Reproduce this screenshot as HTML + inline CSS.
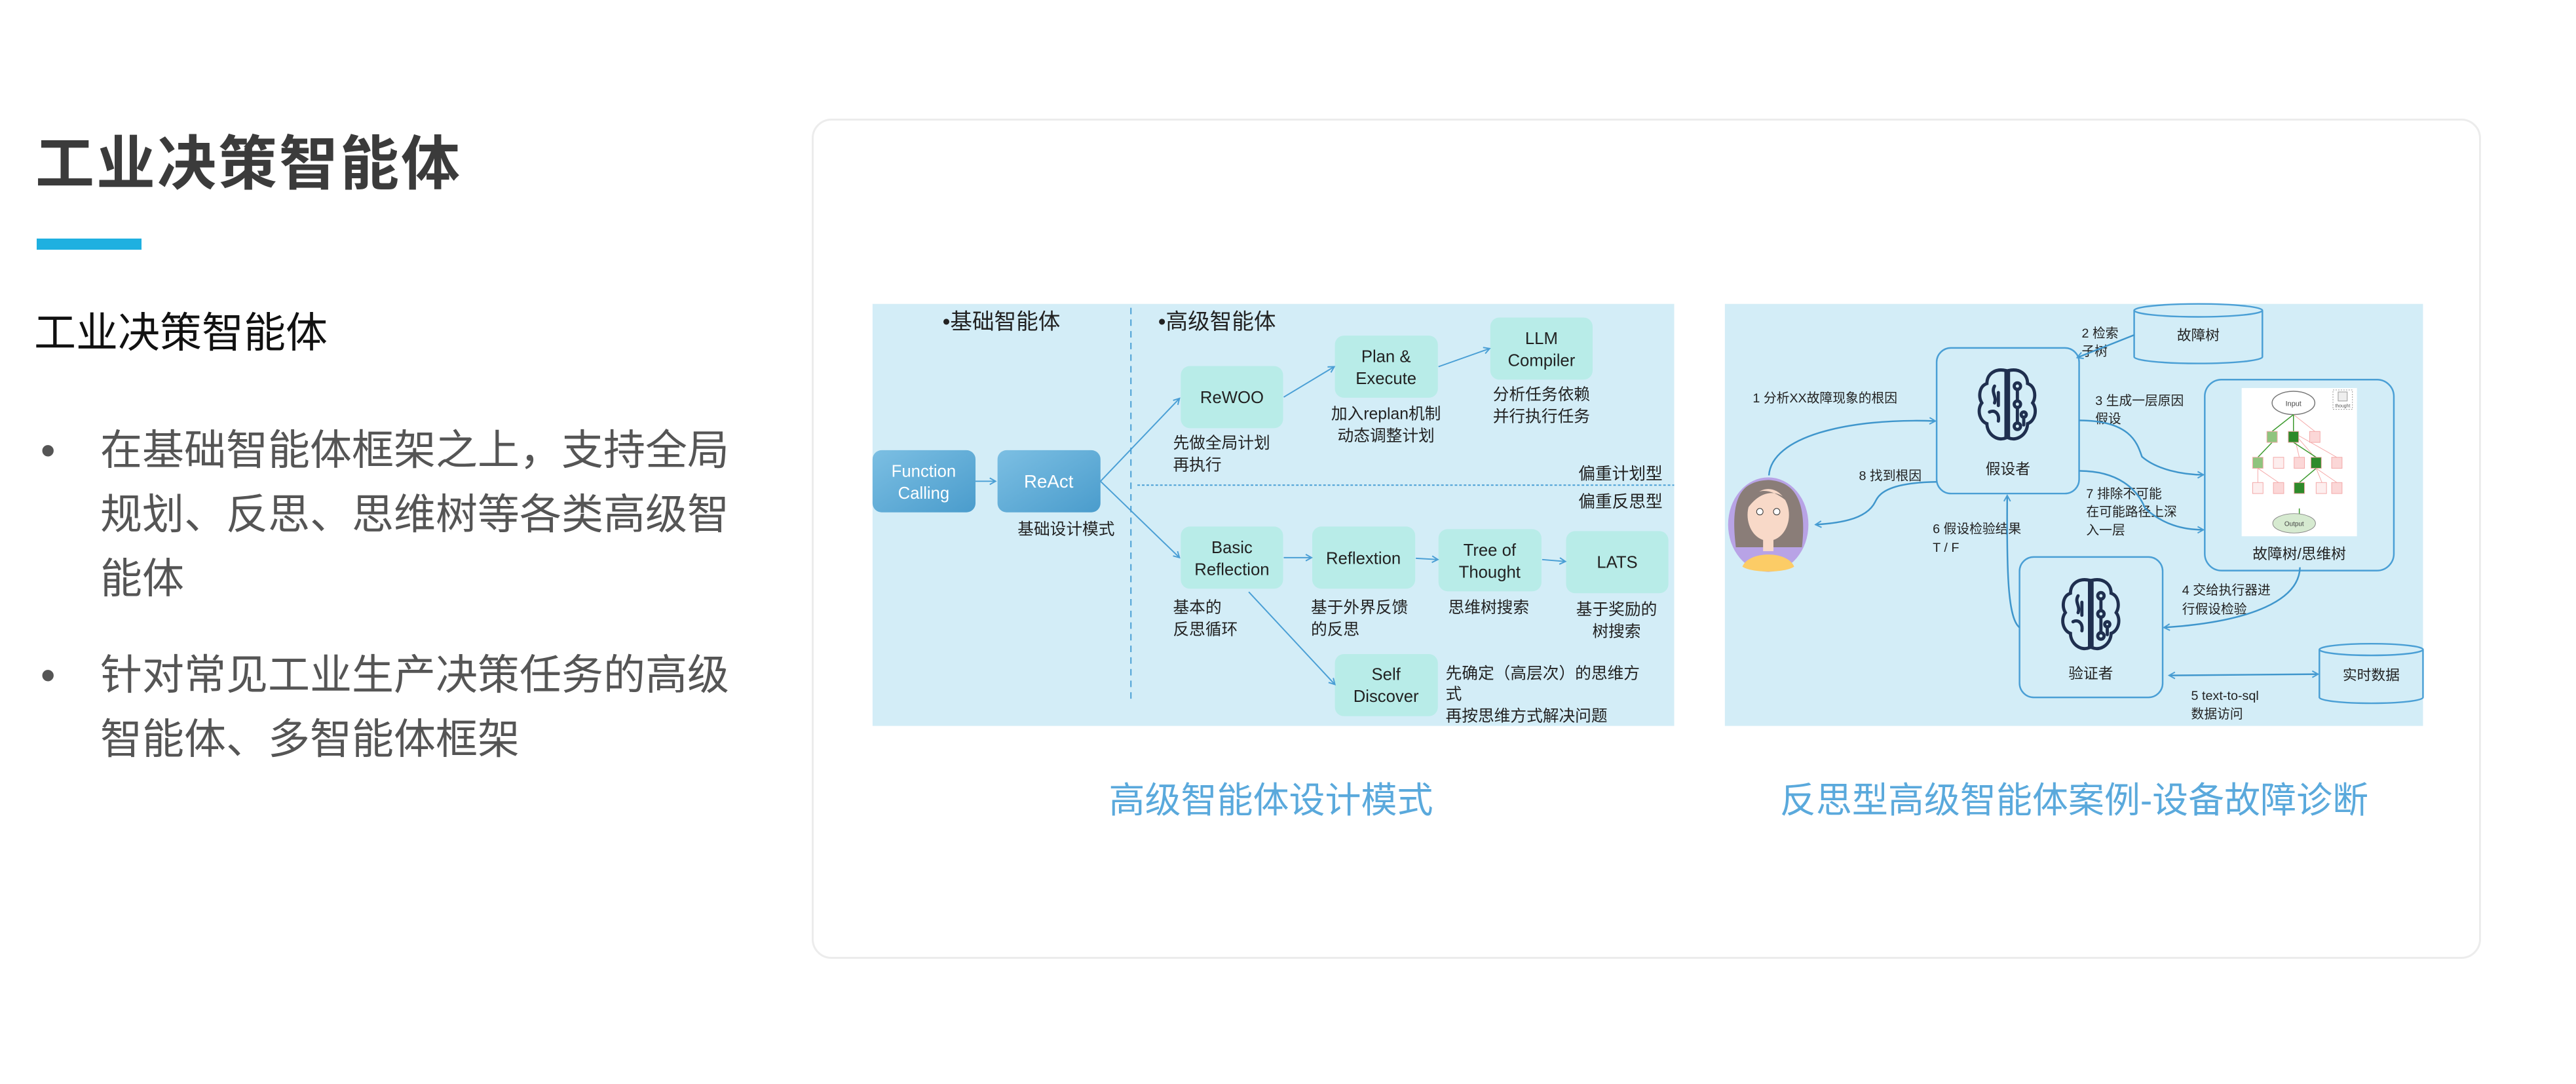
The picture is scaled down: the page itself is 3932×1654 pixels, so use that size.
<!DOCTYPE html>
<html><head><meta charset="utf-8"><style>
html,body{margin:0;padding:0;background:#fff;}
body{width:3932px;height:1654px;position:relative;overflow:hidden;font-family:"Liberation Sans","Noto Sans CJK SC",sans-serif;}
.t{position:absolute;white-space:nowrap;}
</style></head><body>
<div class="t" style="left:54px;top:196px;font-size:90px;font-weight:bold;color:#3b3b3b;letter-spacing:3px;line-height:110px;">工业决策智能体</div>
<div style="position:absolute;left:56px;top:364px;width:160px;height:17px;background:#1fb0e0;"></div>
<div class="t" style="left:52px;top:463px;font-size:64px;color:#111;line-height:90px;">工业决策智能体</div>
<div style="position:absolute;left:62px;top:638px;font-size:64px;color:#555;line-height:98px;">
 <div style="position:absolute;left:0;top:0;">•</div>
 <div style="position:absolute;left:91px;top:0;width:1000px;white-space:normal;">在基础智能体框架之上，支持全局规划、反思、思维树等各类高级智能体</div>
 <div style="position:absolute;left:0;top:343px;">•</div>
 <div style="position:absolute;left:91px;top:343px;width:1000px;white-space:normal;">针对常见工业生产决策任务的高级智能体、多智能体框架</div>
</div>
<div style="position:absolute;left:1239px;top:181px;width:2542px;height:1276px;border:3px solid #ececec;border-radius:30px;"></div>

<svg style="position:absolute;left:0;top:0" width="3932" height="1654" font-family="Liberation Sans, Noto Sans CJK SC, sans-serif">
<defs>
<marker id="a" markerWidth="12" markerHeight="12" refX="10" refY="6" orient="auto" markerUnits="userSpaceOnUse"><path d="M1,1 L10,6 L1,11" fill="none" stroke="#4a9fd5" stroke-width="2"/></marker>
<marker id="as" markerWidth="12" markerHeight="12" refX="2" refY="6" orient="auto" markerUnits="userSpaceOnUse"><path d="M11,1 L2,6 L11,11" fill="none" stroke="#4a9fd5" stroke-width="2"/></marker>
<linearGradient id="bg" x1="0" y1="0" x2="1" y2="1"><stop offset="0" stop-color="#7cbfe3"/><stop offset="1" stop-color="#4a9ccc"/></linearGradient>
<g id="brain" fill="none" stroke="#1f2f4f" stroke-width="5" stroke-linecap="round">
<path d="M48,6 C30,2 18,12 18,26 C6,30 4,46 10,56 C2,66 6,84 18,88 C18,104 34,116 48,110 Z"/>
<path d="M52,6 C70,2 82,12 82,26 C94,30 96,46 90,56 C98,66 94,84 82,88 C82,104 66,116 52,110 Z"/>
<path d="M30,30 C24,40 34,46 30,56 M22,70 C30,66 38,72 36,84 M36,40 L36,60"/>
<circle cx="66" cy="30" r="5"/><circle cx="66" cy="58" r="5"/><circle cx="66" cy="92" r="5"/><circle cx="76" cy="74" r="4"/>
<path d="M66,35 L66,53 M66,63 L66,87 M76,78 L76,90"/>
</g>
</defs>

<g transform="translate(1320,440) scale(0.9884,0.9876) translate(-1320,-440)">
<rect x="1332" y="464" width="1238" height="652" fill="#d3edf7"/>
<line x1="1731" y1="470" x2="1731" y2="1080" stroke="#4a9fd5" stroke-width="2" stroke-dasharray="10,8"/>
<line x1="1741" y1="744" x2="2570" y2="744" stroke="#4a9fd5" stroke-width="2" stroke-dasharray="4,3"/>
<text x="1440" y="503" font-size="34" fill="#222">•基础智能体</text>
<text x="1773" y="503" font-size="34" fill="#222">•高级智能体</text>
<text x="2552" y="735" font-size="26" fill="#222" text-anchor="end">偏重计划型</text>
<text x="2552" y="778" font-size="26" fill="#222" text-anchor="end">偏重反思型</text>

<rect x="1332" y="690" width="159" height="96" rx="14" fill="url(#bg)"/>
<text x="1411" y="731" font-size="26" fill="#fff" text-anchor="middle">Function</text>
<text x="1411" y="765" font-size="26" fill="#fff" text-anchor="middle">Calling</text>
<rect x="1525" y="690" width="159" height="96" rx="14" fill="url(#bg)"/>
<text x="1604" y="748" font-size="28" fill="#fff" text-anchor="middle">ReAct</text>
<line x1="1491" y1="738" x2="1522" y2="738" stroke="#4a9fd5" stroke-width="2" marker-end="url(#a)"/>
<text x="1556" y="820" font-size="25" fill="#222">基础设计模式</text>

<g fill="#b8ece8">
<rect x="1808" y="560" width="158" height="96" rx="14"/>
<rect x="2046" y="513" width="159" height="96" rx="14"/>
<rect x="2286" y="485" width="158" height="96" rx="14"/>
<rect x="1808" y="808" width="158" height="96" rx="14"/>
<rect x="2011" y="808" width="159" height="96" rx="14"/>
<rect x="2206" y="812" width="159" height="96" rx="14"/>
<rect x="2403" y="815" width="158" height="96" rx="14"/>
<rect x="2046" y="1005" width="159" height="96" rx="14"/>
</g>
<g font-size="26" fill="#222" text-anchor="middle">
<text x="1887" y="617">ReWOO</text>
<text x="2125" y="554">Plan &amp;</text><text x="2125" y="588">Execute</text>
<text x="2365" y="526">LLM</text><text x="2365" y="560">Compiler</text>
<text x="1887" y="849">Basic</text><text x="1887" y="883">Reflection</text>
<text x="2090" y="866">Reflextion</text>
<text x="2285" y="853">Tree of</text><text x="2285" y="887">Thought</text>
<text x="2482" y="872">LATS</text>
<text x="2125" y="1045">Self</text><text x="2125" y="1079">Discover</text>
</g>
<g font-size="25" fill="#222">
<text x="1796" y="687">先做全局计划</text><text x="1796" y="721">再执行</text>
<text x="2125" y="642" text-anchor="middle">加入replan机制</text><text x="2125" y="676" text-anchor="middle">动态调整计划</text>
<text x="2365" y="612" text-anchor="middle">分析任务依赖</text><text x="2365" y="646" text-anchor="middle">并行执行任务</text>
<text x="1796" y="941">基本的</text><text x="1796" y="975">反思循环</text>
<text x="2009" y="941">基于外界反馈</text><text x="2009" y="975">的反思</text>
<text x="2221" y="941">思维树搜索</text>
<text x="2481" y="944" text-anchor="middle">基于奖励的</text><text x="2481" y="978" text-anchor="middle">树搜索</text>
<text x="2217" y="1043">先确定（高层次）的思维方</text><text x="2217" y="1075">式</text><text x="2217" y="1109">再按思维方式解决问题</text>
</g>
<g stroke="#4a9fd5" stroke-width="2" fill="none" marker-end="url(#a)">
<line x1="1684" y1="738" x2="1806" y2="610"/>
<line x1="1967" y1="608" x2="2045" y2="561"/>
<line x1="2206" y1="561" x2="2285" y2="533"/>
<line x1="1684" y1="738" x2="1806" y2="856"/>
<line x1="1967" y1="856" x2="2010" y2="856"/>
<line x1="2171" y1="857" x2="2205" y2="859"/>
<line x1="2366" y1="859" x2="2402" y2="862"/>
<line x1="1913" y1="909" x2="2046" y2="1052"/>
</g>
</g>
<text x="1940" y="1240" font-size="55" fill="#5aa9dc" text-anchor="middle">高级智能体设计模式</text>

<g transform="translate(2620,440) scale(0.9885,0.9876) translate(-2620,-440)">
<rect x="2633" y="464" width="1078" height="652" fill="#d3edf7"/>
<g stroke="#4a9fd5" stroke-width="2.5" fill="#d3edf7">
<path d="M3265,474 L3265,546 A99,10 0 0 0 3463,546 L3463,474"/>
<ellipse cx="3364" cy="474" rx="99" ry="10"/>
<path d="M3551,998 L3551,1072 A80,9 0 0 0 3711,1072 L3711,998"/>
<ellipse cx="3631" cy="998" rx="80" ry="9"/>
<rect x="2960" y="532" width="220" height="225" rx="22"/>
<rect x="3374" y="581" width="292" height="295" rx="26"/>
<rect x="3088" y="855" width="221" height="217" rx="22"/>
</g>
<text x="3364" y="520" font-size="22" fill="#222" text-anchor="middle">故障树</text>
<text x="3631" y="1045" font-size="22" fill="#222" text-anchor="middle">实时数据</text>
<use href="#brain" transform="translate(3020,561) scale(0.98,1.0)"/>
<use href="#brain" transform="translate(3149,885) scale(0.98,1.0)"/>
<text x="3070" y="727" font-size="23" fill="#222" text-anchor="middle">假设者</text>
<text x="3198" y="1043" font-size="23" fill="#222" text-anchor="middle">验证者</text>
<text x="3520" y="858" font-size="23" fill="#222" text-anchor="middle">故障树/思维树</text>

<rect x="3431" y="594" width="178" height="229" fill="#fff"/>
<ellipse cx="3511" cy="617" rx="33" ry="18" fill="#fff" stroke="#777" stroke-width="1.5"/>
<text x="3511" y="622" font-size="11" fill="#444" text-anchor="middle">Input</text>
<rect x="3572" y="597" width="30" height="30" fill="#fff" stroke="#999" stroke-dasharray="2,2"/>
<rect x="3580" y="600" width="14" height="14" fill="#eee" stroke="#999"/>
<text x="3587" y="624" font-size="7" fill="#555" text-anchor="middle">thought</text>
<g stroke="#f6aaaa" stroke-width="1">
<line x1="3511" y1="635" x2="3544" y2="661"/><line x1="3511" y1="663" x2="3544" y2="701"/><line x1="3511" y1="663" x2="3520" y2="701"/><line x1="3511" y1="663" x2="3578" y2="701"/>
<line x1="3546" y1="718" x2="3578" y2="740"/><line x1="3546" y1="718" x2="3555" y2="740"/><line x1="3456" y1="718" x2="3456" y2="740"/><line x1="3456" y1="718" x2="3488" y2="740"/>
</g>
<g stroke="#3c9a2e" stroke-width="1.5">
<line x1="3511" y1="635" x2="3478" y2="661"/><line x1="3511" y1="635" x2="3511" y2="661"/>
<line x1="3478" y1="678" x2="3456" y2="701"/><line x1="3511" y1="678" x2="3546" y2="701"/>
<line x1="3546" y1="718" x2="3520" y2="740"/><line x1="3520" y1="780" x2="3520" y2="793"/>
</g>
<g stroke="#f3a9a9" stroke-width="1">
<rect x="3470" y="661" width="16" height="17" fill="#8fc47e"/><rect x="3503" y="661" width="16" height="17" fill="#2e8a2a"/><rect x="3536" y="661" width="16" height="17" fill="#fbd7d7"/>
<rect x="3448" y="701" width="16" height="17" fill="#8fc47e"/><rect x="3480" y="701" width="16" height="17" fill="#fdeeee"/><rect x="3512" y="701" width="16" height="17" fill="#fbd7d7"/><rect x="3538" y="701" width="16" height="17" fill="#2e8a2a"/><rect x="3570" y="701" width="16" height="17" fill="#fbd7d7"/>
<rect x="3448" y="740" width="16" height="17" fill="#fdeeee"/><rect x="3480" y="740" width="16" height="17" fill="#fbd7d7"/><rect x="3512" y="740" width="16" height="17" fill="#2e8a2a"/><rect x="3546" y="740" width="16" height="17" fill="#fdeeee"/><rect x="3570" y="740" width="16" height="17" fill="#fbd7d7"/>
</g>
<ellipse cx="3512" cy="803" rx="33" ry="15" fill="#d6ead0" stroke="#888"/>
<text x="3512" y="807" font-size="10" fill="#444" text-anchor="middle">Output</text>

<ellipse cx="2700" cy="805" rx="62" ry="73" fill="#b8a3e6"/>
<path d="M2650,840 C2640,760 2660,738 2700,736 C2742,738 2760,770 2752,840 Z" fill="#8a7d78"/>
<ellipse cx="2700" cy="790" rx="32" ry="40" fill="#f8d9c8"/>
<path d="M2668,780 C2672,748 2700,744 2730,770 C2720,752 2690,748 2668,780 Z" fill="#8a7d78"/>
<rect x="2692" y="826" width="16" height="20" fill="#f8d9c8"/>
<path d="M2660,870 C2670,845 2730,845 2740,870 C2725,880 2675,880 2660,870 Z" fill="#fccc66"/>
<circle cx="2687" cy="785" r="5" fill="#fff" stroke="#333"/><circle cx="2713" cy="785" r="5" fill="#fff" stroke="#333"/>

<g font-size="20" fill="#222">
<text x="2676" y="616">1 分析XX故障现象的根因</text>
<text x="2840" y="736">8 找到根因</text>
<text x="3184" y="516">2 检索</text><text x="3184" y="544">子树</text>
<text x="3205" y="620">3 生成一层原因</text><text x="3205" y="648">假设</text>
<text x="3191" y="764">7 排除不可能</text><text x="3191" y="792">在可能路径上深</text><text x="3191" y="820">入一层</text>
<text x="2954" y="818">6 假设检验结果</text><text x="2954" y="847">T / F</text>
<text x="3339" y="913">4 交给执行器进</text><text x="3339" y="942">行假设检验</text>
<text x="3353" y="1076">5 text-to-sql</text><text x="3353" y="1104">数据访问</text>
</g>
<g stroke="#3f96cc" stroke-width="2.5" fill="none">
<path d="M2701,729 C2705,670 2820,640 2958,645" marker-end="url(#a)"/>
<path d="M2960,739 C2880,740 2870,760 2865,770 C2850,800 2800,803 2773,805" marker-end="url(#a)"/>
<path d="M3265,512 L3177,547" marker-end="url(#a)"/>
<path d="M3180,644 C3260,644 3270,680 3277,700 C3300,720 3340,728 3372,728" marker-end="url(#a)"/>
<path d="M3180,722 C3240,722 3270,750 3282,780 C3310,805 3340,813 3372,813" marker-end="url(#a)"/>
<path d="M3521,871 C3520,920 3450,955 3311,964" marker-end="url(#a)"/>
<path d="M3088,964 C3070,950 3068,880 3069,760" marker-end="url(#a)"/>
<path d="M3319,1038 L3549,1036" marker-start="url(#as)" marker-end="url(#a)"/>
</g>
</g>
<text x="3166" y="1240" font-size="55" fill="#5aa9dc" text-anchor="middle">反思型高级智能体案例-设备故障诊断</text>
</svg>
</body></html>
